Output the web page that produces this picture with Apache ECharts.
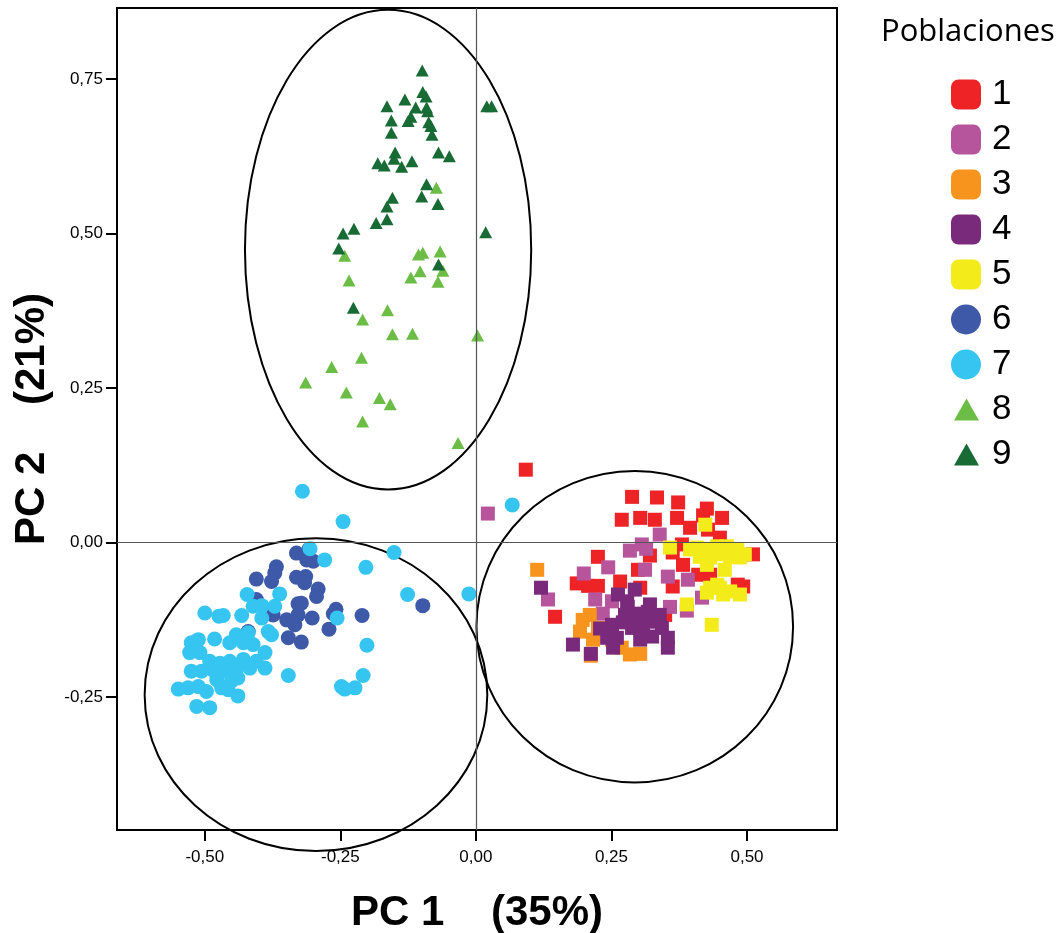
<!DOCTYPE html>
<html>
<head>
<meta charset="utf-8">
<script src="https://cdn.jsdelivr.net/npm/echarts@6/dist/echarts.min.js"></script>
<style>
  html, body { margin: 0; padding: 0; background: #fff; }
  #chart { width: 1063px; height: 933px; }
</style>
</head>
<body>
<div id="chart"></div>
<script>
// ticks de los ejes
const xTicks = [-0.5, -0.25, 0, 0.25, 0.5]
const yTicks = [-0.25, 0, 0.25, 0.5, 0.75]

// poblaciones (PC1, PC2)
const pop1 = [[0.092, 0.118], [0.288, 0.074], [0.334, 0.073], [0.373, 0.065], [0.426, 0.055], [0.269, 0.037],
  [0.303, 0.040], [0.330, 0.037], [0.371, 0.040], [0.395, 0.024], [0.419, 0.044], [0.454, 0.040], [0.428, 0.021],
  [0.450, 0.008], [0.380, -0.003], [0.363, -0.016], [0.321, -0.021], [0.382, -0.036], [0.299, -0.044],
  [0.410, -0.052], [0.432, -0.052], [0.511, -0.019], [0.493, -0.071], [0.363, -0.071], [0.303, -0.073],
  [0.266, -0.063], [0.349, -0.117], [0.225, -0.023], [0.146, -0.120], [0.186, -0.066], [0.207, -0.070],
  [0.225, -0.070], [0.483, -0.068]]
const pop2 = [[0.022, 0.047], [0.284, -0.013], [0.306, -0.003], [0.314, -0.010], [0.339, 0.013], [0.244, -0.040],
  [0.199, -0.050], [0.312, -0.044], [0.354, -0.055], [0.133, -0.092], [0.220, -0.092], [0.251, -0.095],
  [0.234, -0.115], [0.358, -0.104], [0.389, -0.110], [0.417, -0.089], [0.391, -0.060]]
const pop3 = [[0.113, -0.044], [0.197, -0.125], [0.210, -0.117], [0.192, -0.144], [0.216, -0.157], [0.225, -0.138],
  [0.212, -0.183], [0.269, -0.170], [0.284, -0.181], [0.303, -0.180], [0.251, -0.157]]
const pop4 = [[0.120, -0.073], [0.179, -0.165], [0.212, -0.180], [0.262, -0.084], [0.293, -0.076], [0.279, -0.095],
  [0.321, -0.100], [0.280, -0.104], [0.293, -0.115], [0.299, -0.125], [0.271, -0.129], [0.229, -0.139],
  [0.242, -0.154], [0.260, -0.154], [0.253, -0.170], [0.288, -0.138], [0.308, -0.141], [0.330, -0.128],
  [0.343, -0.138], [0.354, -0.154], [0.354, -0.170], [0.325, -0.152], [0.312, -0.125], [0.339, -0.117],
  [0.275, -0.117], [0.303, -0.157], [0.317, -0.112], [0.251, -0.133]]
const pop5 = [[0.423, 0.029], [0.358, -0.008], [0.408, -0.008], [0.426, -0.010], [0.445, -0.006], [0.463, -0.006],
  [0.482, -0.011], [0.496, -0.019], [0.413, -0.023], [0.432, -0.024], [0.450, -0.019], [0.469, -0.023],
  [0.487, -0.024], [0.426, -0.036], [0.459, -0.044], [0.432, -0.073], [0.450, -0.073], [0.469, -0.079],
  [0.487, -0.084], [0.426, -0.081], [0.456, -0.084], [0.445, -0.068], [0.389, -0.100], [0.435, -0.133],
  [0.395, -0.011]]
const pop6 = [[-0.331, -0.017], [-0.308, -0.011], [-0.312, -0.028], [-0.300, -0.030], [-0.368, -0.039],
  [-0.371, -0.049], [-0.405, -0.059], [-0.331, -0.056], [-0.314, -0.055], [-0.316, -0.065], [-0.377, -0.063],
  [-0.291, -0.075], [-0.294, -0.087], [-0.405, -0.092], [-0.328, -0.099], [-0.374, -0.117], [-0.349, -0.125],
  [-0.334, -0.133], [-0.328, -0.117], [-0.302, -0.122], [-0.258, -0.108], [-0.263, -0.115], [-0.210, -0.118],
  [-0.271, -0.140], [-0.420, -0.144], [-0.346, -0.154], [-0.322, -0.161], [-0.098, -0.102], [-0.322, -0.098]]
const pop7 = [[-0.320, 0.083], [-0.306, -0.010], [-0.279, -0.028], [-0.422, -0.084], [-0.362, -0.083],
  [-0.500, -0.114], [-0.474, -0.119], [-0.466, -0.118], [-0.432, -0.118], [-0.411, -0.103], [-0.395, -0.102],
  [-0.371, -0.103], [-0.395, -0.122], [-0.383, -0.144], [-0.377, -0.149], [-0.420, -0.146], [-0.442, -0.149],
  [-0.525, -0.162], [-0.512, -0.157], [-0.482, -0.156], [-0.454, -0.162], [-0.429, -0.162], [-0.411, -0.165],
  [-0.528, -0.178], [-0.509, -0.178], [-0.389, -0.178], [-0.491, -0.192], [-0.472, -0.195], [-0.454, -0.192],
  [-0.429, -0.189], [-0.405, -0.192], [-0.525, -0.208], [-0.506, -0.208], [-0.485, -0.206], [-0.460, -0.208],
  [-0.442, -0.206], [-0.417, -0.203], [-0.389, -0.203], [-0.346, -0.215], [-0.478, -0.222], [-0.451, -0.224],
  [-0.439, -0.219], [-0.549, -0.237], [-0.531, -0.235], [-0.512, -0.233], [-0.497, -0.241], [-0.469, -0.235],
  [-0.457, -0.238], [-0.439, -0.248], [-0.515, -0.265], [-0.491, -0.267], [-0.245, 0.034], [-0.151, -0.016],
  [-0.203, -0.040], [-0.126, -0.084], [-0.013, -0.083], [-0.256, -0.122], [-0.201, -0.166], [-0.208, -0.215],
  [-0.248, -0.233], [-0.242, -0.237], [-0.223, -0.235], [0.067, 0.061]]
const pop8 = [[-0.073, 0.574], [-0.242, 0.464], [-0.106, 0.466], [-0.098, 0.469], [-0.066, 0.471], [-0.061, 0.440],
  [-0.103, 0.439], [-0.120, 0.429], [-0.070, 0.422], [-0.234, 0.424], [-0.163, 0.376], [-0.209, 0.361],
  [-0.154, 0.337], [-0.117, 0.338], [0.003, 0.335], [-0.211, 0.299], [-0.266, 0.284], [-0.314, 0.259],
  [-0.239, 0.243], [-0.178, 0.234], [-0.158, 0.224], [-0.209, 0.196], [-0.033, 0.161]]
const pop9 = [[-0.099, 0.764], [-0.098, 0.729], [-0.092, 0.722], [-0.131, 0.717], [-0.164, 0.706], [-0.111, 0.704],
  [-0.091, 0.704], [-0.089, 0.698], [0.020, 0.706], [0.029, 0.706], [-0.120, 0.689], [-0.125, 0.682],
  [-0.156, 0.683], [-0.087, 0.680], [-0.083, 0.674], [-0.156, 0.663], [-0.081, 0.660], [-0.149, 0.631],
  [-0.151, 0.621], [-0.069, 0.631], [-0.049, 0.625], [-0.181, 0.614], [-0.169, 0.610], [-0.137, 0.608],
  [-0.118, 0.617], [-0.091, 0.580], [-0.100, 0.560], [-0.070, 0.548], [-0.154, 0.558], [-0.164, 0.544],
  [-0.164, 0.523], [-0.184, 0.517], [-0.225, 0.508], [-0.245, 0.500], [0.018, 0.502], [-0.253, 0.476],
  [-0.069, 0.450], [-0.226, 0.380]]

// elipses de agrupacion: [centroX, centroY, radioX, radioY]
const ellipses = [[-0.162, 0.474, 0.264, 0.388], [-0.295, -0.246, 0.316, 0.253], [0.293, -0.136, 0.292, 0.252]]

const popNames = ['1', '2', '3', '4', '5', '6', '7', '8', '9']
const popData = [pop1, pop2, pop3, pop4, pop5, pop6, pop7, pop8, pop9]
const popColors = ['#ee2326', '#b6549c', '#f7941d', '#7a2a7b', '#f4eb1a', '#3d59a8', '#36c5f0', '#6cbd45', '#186b35']
const popSymbols = ['rect', 'rect', 'rect', 'rect', 'rect', 'circle', 'circle', 'triangle', 'triangle']
// triangulo de la leyenda algo mas pequeño que la caja de 30px
const triIcon = 'path://M0,0L0,0M30,30L30,30M3,26L15.5,4L28,26Z'
const legendIcons = ['roundRect', 'roundRect', 'roundRect', 'roundRect', 'roundRect', 'circle', 'circle', triIcon, triIcon]
const symbolSizes = [14, 14, 14, 14, 14, 15, 15, [13, 12], [13, 12]]

const fmt = v => v.toFixed(2).replace('.', ',')

const chart = echarts.init(document.getElementById('chart'))

const series = popNames.map((name, i) => ({
  name: name,
  type: 'scatter',
  data: popData[i],
  symbol: popSymbols[i],
  symbolSize: symbolSizes[i],
  itemStyle: { color: popColors[i], opacity: 1 },
  emphasis: { disabled: true }
}))

// lineas de referencia en 0
series[8].markLine = {
  silent: true,
  symbol: 'none',
  label: { show: false },
  lineStyle: { color: '#555', width: 1.2, type: 'solid' },
  data: [{ xAxis: 0 }, { yAxis: 0 }]
}

series.push({
  name: 'elipses',
  type: 'custom',
  clip: false,
  silent: true,
  data: ellipses,
  encode: { x: 0, y: 1 },
  renderItem(params, api) {
    const c = api.coord([api.value(0), api.value(1)])
    const s = api.size([api.value(2), api.value(3)])
    return {
      type: 'ellipse',
      shape: { cx: c[0], cy: c[1], rx: s[0], ry: s[1] },
      style: { fill: 'none', stroke: '#000', lineWidth: 2 }
    }
  }
})

chart.setOption({
  animation: false,
  backgroundColor: '#fff',
  title: {
    text: 'Poblaciones',
    left: 876,
    top: 12,
    textStyle: { fontFamily: 'Open Sans', fontWeight: 'normal', fontSize: 31, color: '#000' }
  },
  legend: {
    data: popNames.map((n, i) => ({ name: n, icon: legendIcons[i] })),
    orient: 'vertical',
    left: 946,
    top: 72,
    itemWidth: 30,
    itemHeight: 30,
    itemGap: 10,
    selectedMode: false,
    textStyle: { fontFamily: 'Liberation Sans', fontSize: 35, color: '#000', padding: [0, 0, 0, 6] }
  },
  grid: {
    left: 117,
    right: 226,
    top: 8,
    bottom: 103,
    outerBoundsMode: 'none',
    show: true,
    borderColor: '#000',
    borderWidth: 2
  },
  xAxis: {
    type: 'value',
    min: -0.662,
    max: 0.666,
    name: 'PC 1    (35%)',
    nameLocation: 'middle',
    nameGap: 62,
    nameTextStyle: { fontFamily: 'Liberation Sans', fontWeight: 'bold', fontSize: 42, color: '#000' },
    axisLine: { show: true, onZero: false, lineStyle: { color: '#000', width: 2 } },
    axisTick: { show: true, length: 11, customValues: xTicks, lineStyle: { color: '#000', width: 2 } },
    axisLabel: { customValues: xTicks, formatter: fmt, margin: 19, fontFamily: 'Liberation Sans', fontSize: 17, color: '#000' },
    splitLine: { show: false }
  },
  yAxis: {
    type: 'value',
    min: -0.465,
    max: 0.865,
    name: 'PC 2    (21%)',
    nameLocation: 'middle',
    nameGap: 60,
    nameTextStyle: { fontFamily: 'Liberation Sans', fontWeight: 'bold', fontSize: 42, color: '#000' },
    axisLine: { show: true, onZero: false, lineStyle: { color: '#000', width: 2 } },
    axisTick: { show: true, length: 11, customValues: yTicks, lineStyle: { color: '#000', width: 2 } },
    axisLabel: { customValues: yTicks, formatter: fmt, margin: 14, fontFamily: 'Liberation Sans', fontSize: 17, color: '#000' },
    splitLine: { show: false }
  },
  series: series
})
</script>
</body>
</html>
